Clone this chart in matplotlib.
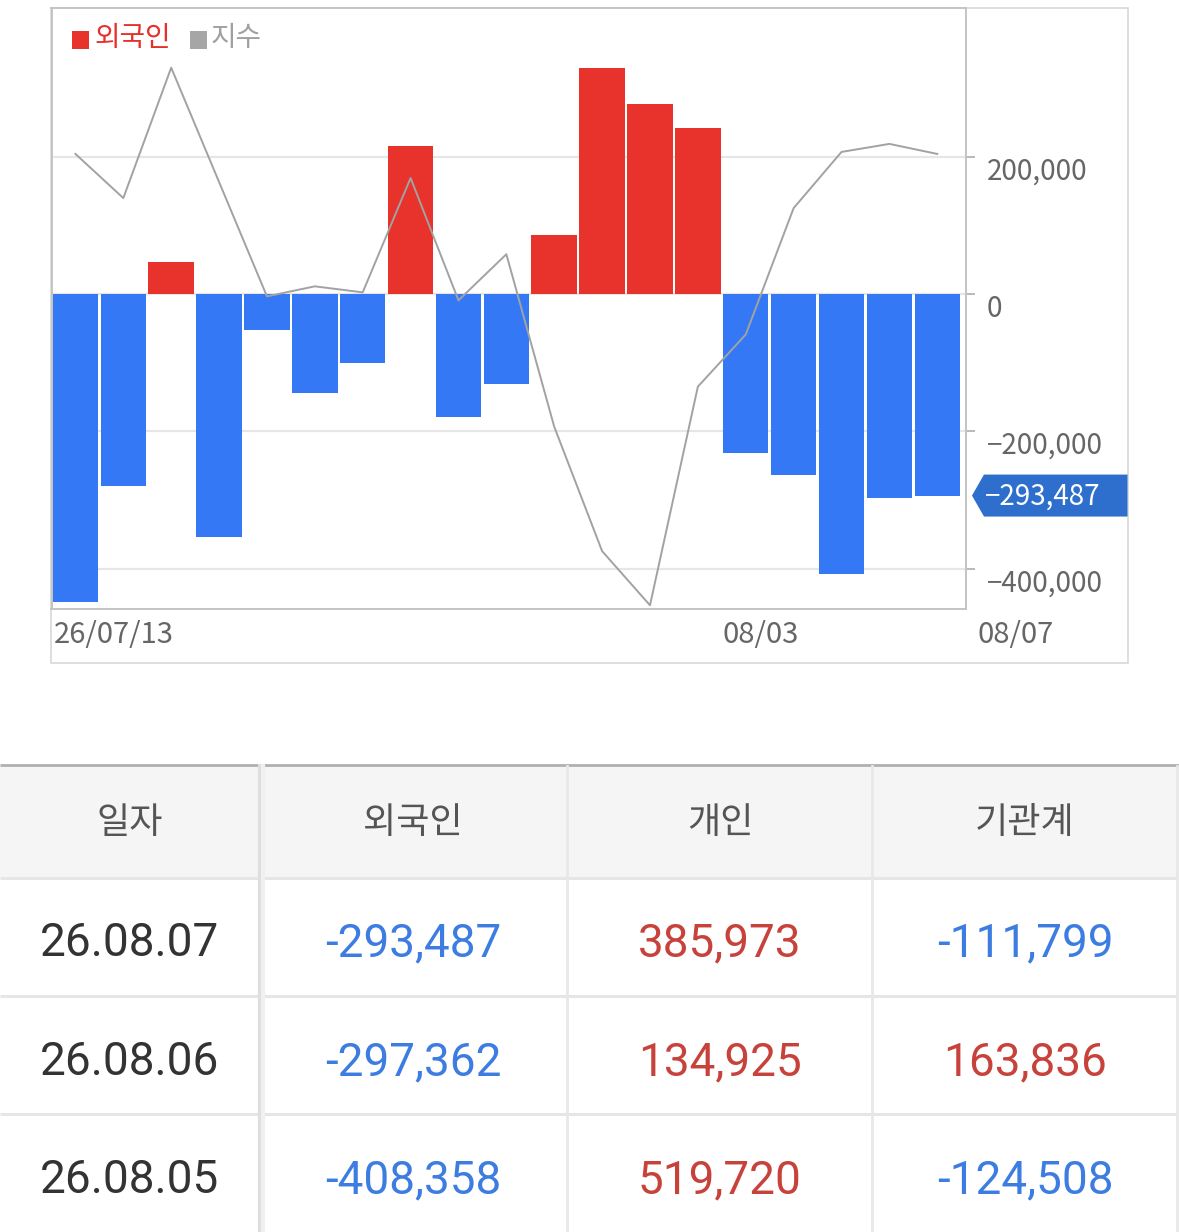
import matplotlib
matplotlib.use('Agg')
import matplotlib.pyplot as plt
from matplotlib.patches import Rectangle, Polygon
from matplotlib.transforms import blended_transform_factory

plt.rcParams['font.family'] = ['Noto Sans CJK KR', 'DejaVu Sans']

# ---- data ----
foreign_flow = [-449100, -279200, 47100, -353500, -52000, -143700, -100000,
                216000, -178600, -130800, 86300, 329800, 277700, 242900,
                -232100, -262800, -408358, -297362, -293487]
index_vals = [3227, 3205, 3270, 3213, 3156, 3161, 3158, 3215, 3154, 3177,
              3091, 3029, 3002, 3111, 3137, 3200, 3228, 3232, 3227]
x_labels = ['26/07/13', '08/03', '08/07']
x_label_pos = [-0.46, 13.52, 18.85]
y_ticks = [200000, 0, -200000, -400000]

tbl_header = ['일자', '외국인', '개인', '기관계']
tbl_dates = ['26.08.07', '26.08.06', '26.08.05']
tbl_foreign = [-293487, -297362, -408358]
tbl_indiv = [385973, 134925, 519720]
tbl_inst = [-111799, 163836, -124508]

W, H = 1179, 1232
RED = '#e8322c'
BLUE = '#3478f5'
GRAY_LINE = '#a2a2a2'

fig = plt.figure(figsize=(W / 100, H / 100), dpi=100)

# background layer in pixel coords (boxes + table)
bg = fig.add_axes([0, 0, 1, 1])
bg.set_xlim(0, W)
bg.set_ylim(H, 0)
bg.axis('off')

bg.add_patch(Rectangle((51, 7.5), 1127.5 - 51, 663 - 7.5, fill=False,
                       edgecolor='#d4d4d4', lw=1.1))

# table
bg.add_patch(Rectangle((0, 765), W, 112, facecolor='#f5f5f5', edgecolor='none'))
bg.plot([0, W], [764.5, 764.5], color='#b0b0b0', lw=2.0, solid_capstyle='butt')
for yy in [877.5, 995.5, 1113.5]:
    bg.plot([0, 1177], [yy, yy], color='#e6e6e6', lw=2.2, solid_capstyle='butt')
bg.plot([259.5, 259.5], [766, H], color='#dedede', lw=3.0)
bg.plot([263, 263], [766, H], color='#f0f0f0', lw=3.0)
for xx in [566.5, 871.5, 1176.5]:
    bg.plot([xx, xx], [766, H], color='#e8e8e8', lw=2.0)

col_cx = [130, 413, 720, 1025]
for cx, name in zip(col_cx, tbl_header):
    bg.text(cx, 823, name, ha='center', va='center', fontsize=26, color='#555555')

row_cy = [943, 1062, 1180]
for i in range(len(tbl_dates)):
    cy = row_cy[i]
    bg.text(col_cx[0], cy, tbl_dates[i], ha='center', va='center',
            fontsize=33, color='#333333', family='Roboto')
    for cx, v in zip(col_cx[1:], [tbl_foreign[i], tbl_indiv[i], tbl_inst[i]]):
        c = '#c8423c' if v > 0 else '#3d7ce0'
        bg.text(cx, cy, f'{v:,}', ha='center', va='center',
                fontsize=33, color=c, family='Roboto')

# ---- chart ----
left, right, top, bottom = 51.5, 966, 7.5, 609.3
ax = fig.add_axes([left / W, 1 - bottom / H, (right - left) / W, (bottom - top) / H])
x = list(range(len(foreign_flow)))

ax2 = ax.twinx()
ax2.plot(x, index_vals, color=GRAY_LINE, lw=1.4, zorder=3)
ax2.set_ylim(3000, 3300)
ax2.set_yticks([])
for s in ax2.spines.values():
    s.set_visible(False)

colors = [RED if v > 0 else BLUE for v in foreign_flow]
ax.bar(x, foreign_flow, width=0.95, color=colors, zorder=2)
ax.set_xlim(-0.5, 18.6)
ax.set_ylim(-459300, 418000)
ax.set_axisbelow(True)
ax.set_yticks(y_ticks)
ax.yaxis.grid(True, color='#e6e6e6', lw=1.6)
ax.tick_params(axis='y', right=True, left=False, length=6.5, width=1.3,
               color='#b4b4b4', labelright=False, labelleft=False)
ax.set_xticks([])
for s in ax.spines.values():
    s.set_color('#c4c4c4')
    s.set_linewidth(1.4)

for v in y_ticks:
    lab = f'{v:,}'.replace('-', '−')
    ax.annotate(lab, xy=(1, v), xycoords=('axes fraction', 'data'),
                xytext=(15, -10.5), textcoords='offset points',
                ha='left', va='center', fontsize=20, color='#666666')

trans = blended_transform_factory(ax.transData, ax.transAxes)
for lab, xp in zip(x_labels, x_label_pos):
    ax.text(xp, -0.043, lab, transform=trans, ha='left', va='center',
            fontsize=21, color='#666666', clip_on=False)

# legend
def fx(px):
    return px / W

def fy(py):
    return 1 - py / H

fig.patches.append(Rectangle((fx(72), fy(48.5)), 16.5 / W, 17 / H,
                             transform=fig.transFigure, facecolor=RED, edgecolor='none'))
fig.text(fx(95), fy(38.5), '외국인', ha='left', va='center', fontsize=20, color='#e5312a')
fig.patches.append(Rectangle((fx(189.5), fy(48.5)), 17 / W, 17 / H,
                             transform=fig.transFigure, facecolor='#a6a6a6', edgecolor='none'))
fig.text(fx(211), fy(38.5), '지수', ha='left', va='center', fontsize=20, color='#a0a0a0')

# last value tag
last = foreign_flow[-1]
tag_y = H - ax.transData.transform((0, last))[1]
pts = [(972, tag_y), (984, tag_y - 21), (1127.5, tag_y - 21),
       (1127.5, tag_y + 21), (984, tag_y + 21)]
fig.patches.append(Polygon([(fx(a), fy(b)) for a, b in pts], closed=True,
                           transform=fig.transFigure, facecolor='#2e6fcd', edgecolor='none'))
fig.text(fx(985), fy(tag_y + 1), f'{last:,}'.replace('-', '−'), ha='left', va='center',
         fontsize=20, color='white')

fig.savefig('out.png', dpi=100, facecolor='white')
